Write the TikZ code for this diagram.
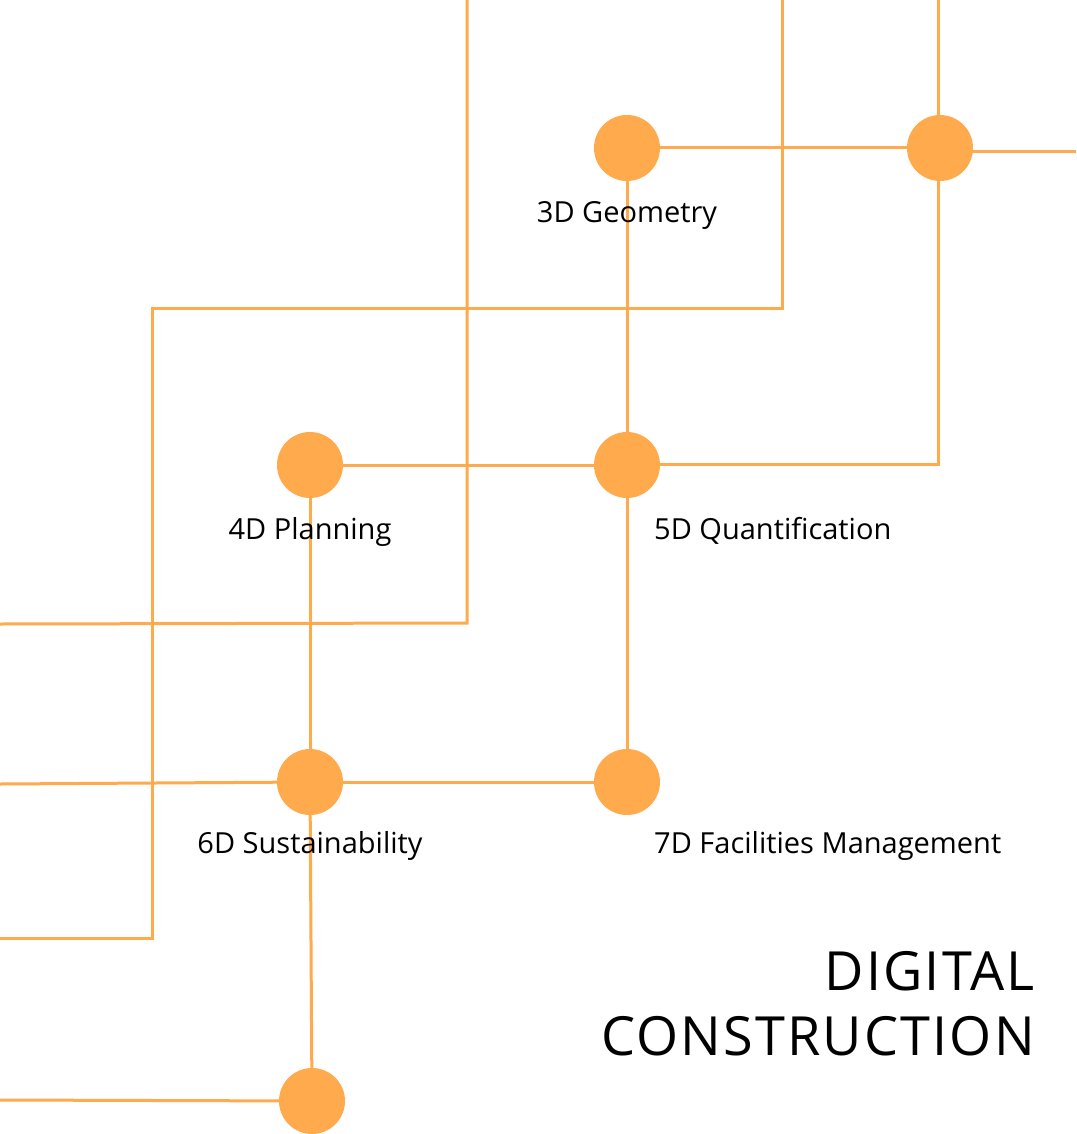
\documentclass[tikz,border=0pt]{standalone}
\usepackage{fontspec}
\setmainfont{Open Sans}
\newfontfamily\titlefont[LetterSpace=4]{Open Sans}
\usetikzlibrary{backgrounds}
\definecolor{bimorange}{HTML}{FFAB4D}
\tikzset{
  dot/.style={circle, fill=bimorange, minimum size=66pt, inner sep=0pt},
  wire/.style={draw=bimorange, line width=3pt},
  lbl/.style={anchor=base, font=\fontsize{29}{34}\selectfont, text=black, inner sep=0pt},
  ttl/.style={anchor=base east, font=\titlefont\fontsize{54}{62}\selectfont, text=black, inner sep=0pt}
}
\begin{document}
\begin{tikzpicture}[x=1pt,y=-1pt]
\useasboundingbox (0,0) rectangle (1076,1134);
% dots
\node[dot] (g3) at (627,148) {};
\node[dot] (tr) at (940,148) {};
\node[dot] (p4) at (310,465) {};
\node[dot] (q5) at (627,465) {};
\node[dot] (s6) at (310,782) {};
\node[dot] (f7) at (627,782) {};
\node[dot] (bt) at (312,1101) {};
% free ends / corners
\coordinate (a1) at (467,0);
\coordinate (a2) at (467,623);
\coordinate (a3) at (0,624);
\coordinate (b1) at (782,0);
\coordinate (b2) at (782,308);
\coordinate (b3) at (152,308);
\coordinate (b4) at (152,938);
\coordinate (b5) at (0,938);
\coordinate (c1) at (938,0);
\coordinate (c2) at (1076,152);
\coordinate (c3) at (938,464);
\coordinate (d1) at (0,784);
\coordinate (d2) at (0,1100);
\begin{scope}[on background layer]
\draw[wire] (a1) -- (a2) -- (a3);
\draw[wire] (b1) -- (b2) -- (b3) -- (b4) -- (b5);
\draw[wire] (c1) -- (c3) -- (c3 -| q5.center);
\draw[wire] (c2 -| tr.center) -- (c2);
\draw[wire] (g3) -- (tr);
\draw[wire] (g3) -- (q5);
\draw[wire] (p4) -- (q5);
\draw[wire] (p4) -- (s6);
\draw[wire] (q5) -- (f7);
\draw[wire] (s6) -- (f7);
\draw[wire] (d1) -- (s6);
\draw[wire] (s6) -- (bt);
\draw[wire] (d2) -- (bt);
\end{scope}
% labels
\node[lbl] (lg3) at (627,222) {3D Geometry};
\node[lbl] (lp4) at (310,539) {4D Planning};
\node[lbl, anchor=base west] (lq5) at (654,539) {5D Quantification};
\node[lbl] (ls6) at (310,853) {6D Sustainability};
\node[lbl, anchor=base west] (lf7) at (654,853) {7D Facilities Management};
\node[ttl] (t1) at (1035,990) {DIGITAL};
\node[ttl] (t2) at (1035,1055) {CONSTRUCTION};
\end{tikzpicture}
\end{document}
